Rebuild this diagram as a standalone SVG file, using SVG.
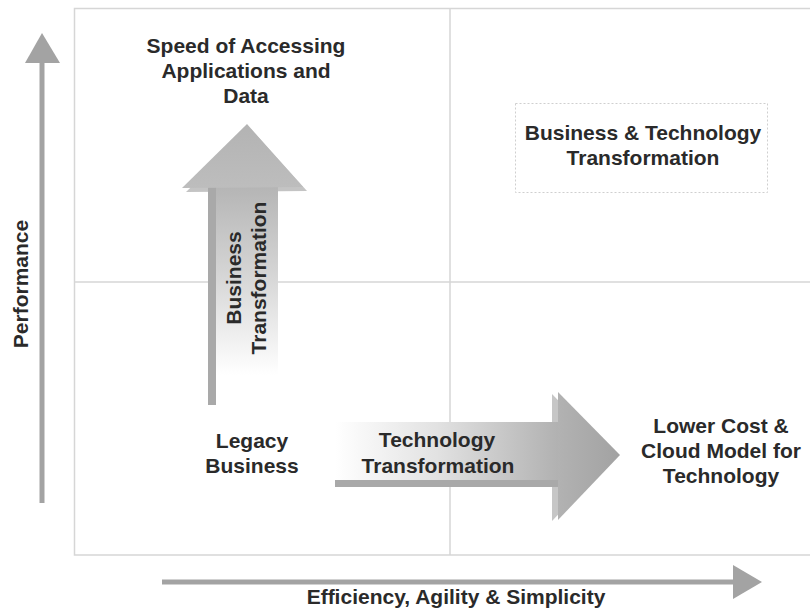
<svg xmlns="http://www.w3.org/2000/svg" width="810" height="609" viewBox="0 0 810 609">
  <style>
    .lbl { font-family: "Liberation Sans", Arial, sans-serif; font-weight: bold; font-size: 21px; fill: #2a2a2a; text-anchor: middle; }
    .grid { stroke: #d6d6d6; stroke-width: 1.5; fill: none; }
    .axis { stroke: #a3a3a3; stroke-width: 5; fill: none; }
    .axis-head { fill: #a3a3a3; }
  </style>
  <defs>
    <linearGradient id="shaftUp" x1="0" y1="0" x2="0" y2="1">
      <stop offset="0" stop-color="#b5b5b5"/>
      <stop offset="0.45" stop-color="#d4d4d4"/>
      <stop offset="1" stop-color="#ffffff"/>
    </linearGradient>
    <linearGradient id="headUp" x1="0" y1="0" x2="0" y2="1">
      <stop offset="0" stop-color="#b3b3b3"/>
      <stop offset="1" stop-color="#bdbdbd"/>
    </linearGradient>
    <linearGradient id="shaftRight" x1="0" y1="0" x2="1" y2="0">
      <stop offset="0" stop-color="#ffffff"/>
      <stop offset="0.45" stop-color="#e2e2e2"/>
      <stop offset="1" stop-color="#b0b0b0"/>
    </linearGradient>
    <linearGradient id="headRight" x1="0" y1="0" x2="1" y2="0">
      <stop offset="0" stop-color="#b2b2b2"/>
      <stop offset="1" stop-color="#a2a2a2"/>
    </linearGradient>
  </defs>

  <rect width="810" height="609" fill="#ffffff"/>

  <!-- quadrant frame and dividers -->
  <g id="quadrants">
    <path class="grid" d="M812 8.5 H74.5 V555 H812"/>
    <line class="grid" x1="450" y1="8" x2="450" y2="555"/>
    <line class="grid" x1="74" y1="282" x2="810" y2="282"/>
  </g>

  <!-- axes -->
  <g id="axes">
    <line class="axis" x1="42" y1="503" x2="42" y2="60"/>
    <polygon class="axis-head" points="25,63 42,33 60,63"/>
    <text class="lbl" transform="translate(28,284) rotate(-90)">Performance</text>

    <line class="axis" x1="162" y1="582" x2="736" y2="582"/>
    <polygon class="axis-head" points="733,565 762,582 733,599"/>
    <text class="lbl" x="456" y="604">Efficiency, Agility &amp; Simplicity</text>
  </g>

  <!-- transformation arrows -->
  <g id="connectors">
    <g id="business-transformation">
      <polygon points="186,192 251,129 307,191" fill="#c4c4c4"/>
      <rect x="212" y="187" width="66" height="188" fill="url(#shaftUp)"/>
      <rect x="208" y="187" width="8" height="218" fill="#a9a9a9"/>
      <polygon points="182,188 247,124 303,187" fill="url(#headUp)"/>
      <text class="lbl" transform="translate(241,278) rotate(-90)">Business</text>
      <text class="lbl" transform="translate(266,278) rotate(-90)">Transformation</text>
    </g>
    <g id="technology-transformation">
      <polygon points="552,394 613,457 552,521" fill="#c6c6c6"/>
      <rect x="335" y="422" width="226" height="60" fill="url(#shaftRight)"/>
      <rect x="335" y="480" width="226" height="7" fill="#a9a9a9"/>
      <polygon points="558,392 620,455 558,520" fill="url(#headRight)"/>
      <text class="lbl" x="437" y="447">Technology</text>
      <text class="lbl" x="438" y="473">Transformation</text>
    </g>
  </g>

  <!-- quadrant labels -->
  <g id="speed">
    <text class="lbl" x="246" y="53">Speed of Accessing</text>
    <text class="lbl" x="246" y="78">Applications and</text>
    <text class="lbl" x="246" y="103">Data</text>
  </g>

  <g id="business-technology">
    <rect x="515.5" y="103.5" width="252" height="89" fill="none" stroke="#cfcfcf" stroke-width="1" stroke-dasharray="2,2"/>
    <text class="lbl" x="643" y="140">Business &amp; Technology</text>
    <text class="lbl" x="643" y="165">Transformation</text>
  </g>

  <g id="legacy">
    <text class="lbl" x="252" y="448">Legacy</text>
    <text class="lbl" x="252" y="473">Business</text>
  </g>

  <g id="lower-cost">
    <text class="lbl" x="721" y="433">Lower Cost &amp;</text>
    <text class="lbl" x="721" y="458">Cloud Model for</text>
    <text class="lbl" x="721" y="483">Technology</text>
  </g>
</svg>
